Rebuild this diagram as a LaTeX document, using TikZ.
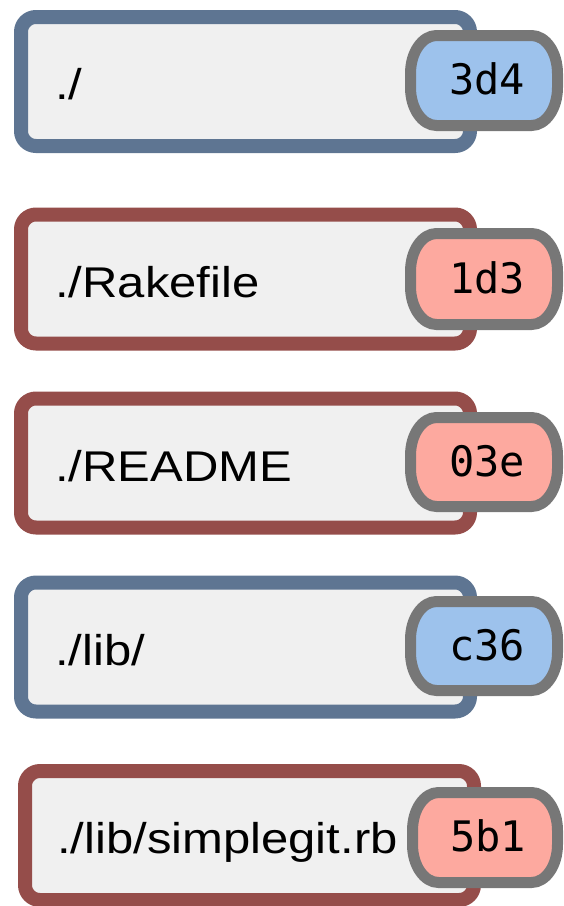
\documentclass[tikz,border=0pt]{standalone}
\usepackage{fontspec}
\setmainfont{Liberation Sans}
\newfontfamily\boxfont[FakeStretch=1.14]{Liberation Sans}
\newfontfamily\tagfont{DejaVu Sans Mono}
\definecolor{treeblue}{HTML}{5E7592}
\definecolor{blobred}{HTML}{954D4A}
\definecolor{boxfill}{HTML}{F0F0F0}
\definecolor{tagedge}{HTML}{777777}
\definecolor{tagblue}{HTML}{9DC2EC}
\definecolor{tagred}{HTML}{FDA99F}
\tikzset{
  entrybox/.style={draw=#1, fill=boxfill, line width=14pt, rounded corners=15pt,
    inner sep=0pt, minimum width=449pt, minimum height=129pt, rectangle},
  entrytext/.style={anchor=base west, inner sep=0pt, font=\boxfont\fontsize{43}{43}\selectfont},
  tagline/.style={draw=tagedge, line width=11pt},
  tagtext/.style={anchor=base, inner sep=0pt, font=\tagfont\fontsize{42}{42}\selectfont},
}
\newcommand\mktag[7]{% #1 name, #2 x1, #3 y1, #4 x2, #5 y2, #6 fill, #7 text
  \pgfmathsetmacro\tgrx{26}\pgfmathsetmacro\tgry{38}\pgfmathsetmacro\tgk{0.5523}%
  \pgfmathsetmacro\tgxa{#2+\tgrx}\pgfmathsetmacro\tgxb{#4-\tgrx}%
  \pgfmathsetmacro\tgya{#3+\tgry}\pgfmathsetmacro\tgyb{#5-\tgry}%
  \pgfmathsetmacro\tgdx{\tgrx*\tgk}\pgfmathsetmacro\tgdy{\tgry*\tgk}%
  \path[tagline, fill=#6] (\tgxa,#3) -- (\tgxb,#3)
    .. controls (\tgxb+\tgdx,#3) and (#4,\tgya-\tgdy) .. (#4,\tgya) -- (#4,\tgyb)
    .. controls (#4,\tgyb+\tgdy) and (\tgxb+\tgdx,#5) .. (\tgxb,#5) -- (\tgxa,#5)
    .. controls (\tgxa-\tgdx,#5) and (#2,\tgyb+\tgdy) .. (#2,\tgyb) -- (#2,\tgya)
    .. controls (#2,\tgya-\tgdy) and (\tgxa-\tgdx,#3) .. (\tgxa,#3) -- cycle;
  \pgfmathsetmacro\tgcx{(#2+#4)/2+3}\pgfmathsetmacro\tgcy{(#3+#5)/2+14}%
  \node[tagtext] (#1) at (\tgcx,\tgcy) {#7};
}
\begin{document}
\begin{tikzpicture}[x=1pt,y=-1pt]
\useasboundingbox (0,0) rectangle (563,906);
% entries
\node[entrybox=treeblue] (b1) at (245.5,81.5) {};
\node[entrytext] (t1) at (55,99.5) {./};
\mktag{h1}{410.5}{35.5}{557.5}{125.5}{tagblue}{3d4}

\node[entrybox=blobred] (b2) at (245.5,279) {};
\node[entrytext] (t2) at (55,297) {./Rakefile};
\mktag{h2}{410.5}{233.5}{557.5}{324.5}{tagred}{1d3}

\node[entrybox=blobred] (b3) at (245.5,463) {};
\node[entrytext] (t3) at (55,481) {./README};
\mktag{h3}{410.5}{417.5}{557.5}{506.5}{tagred}{03e}

\node[entrybox=treeblue] (b4) at (245.5,647) {};
\node[entrytext] (t4) at (55,665) {./lib/};
\mktag{h4}{410.5}{601.5}{557.5}{690.5}{tagblue}{c36}

\node[entrybox=blobred] (b5) at (249.5,835.5) {};
\node[entrytext] (t5) at (57,853.5) {./lib/simplegit.rb};
\mktag{h5}{412.5}{792.5}{557.5}{882.5}{tagred}{5b1}
\end{tikzpicture}
\end{document}
